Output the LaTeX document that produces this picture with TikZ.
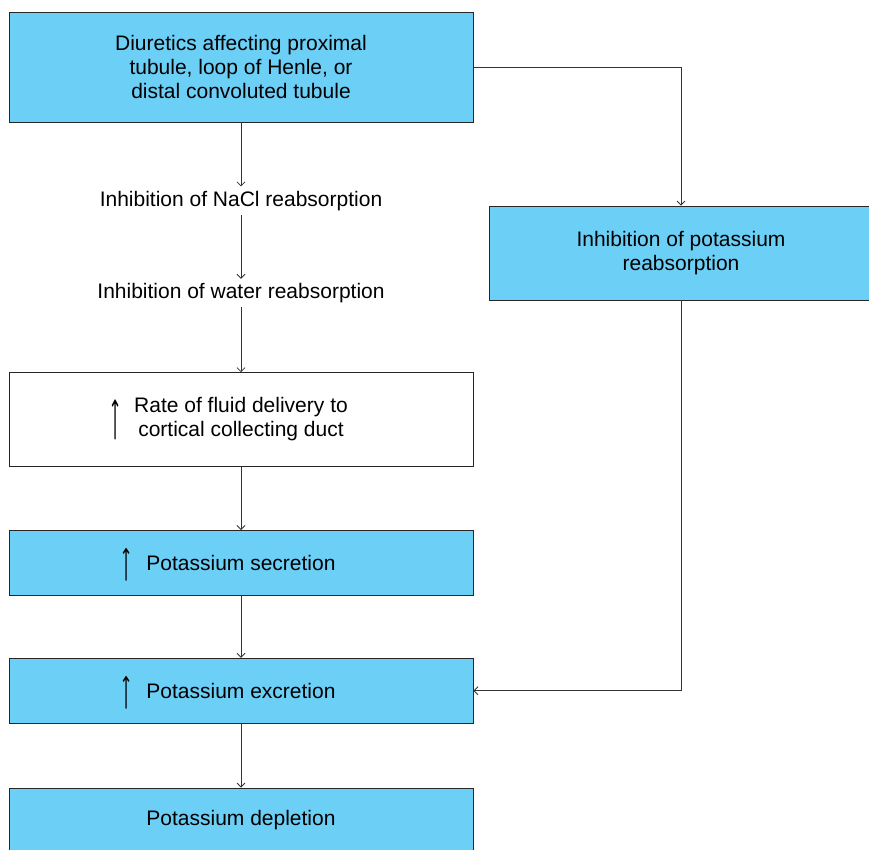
\documentclass[tikz,border=0pt]{standalone}
\usepackage{fontspec}
\setmainfont{Liberation Sans}
\newfontfamily\arrfont{DejaVu Sans}
\usetikzlibrary{positioning,arrows.meta}
\definecolor{kblue}{RGB}{108,207,246}
\definecolor{lineg}{RGB}{51,51,51}
\newcommand{\uparr}[1]{\smash{$\vcenter{\hbox{\rotatebox{90}{\scalebox{#1}[0.75]{\arrfont ⟶}}}}$}}
\begin{document}
\begin{tikzpicture}[>={Straight Barb[length=4pt,width=8pt]}, font=\fontsize{21}{24}\selectfont,
  box/.style={draw=black!85,line width=0.8pt,fill=kblue,minimum width=464pt,align=center,inner sep=2pt},
  step box/.style={minimum height=28pt,inner sep=0pt,align=center},
  conn/.style={draw=lineg,line width=0.8pt,->}]
  \useasboundingbox (0,0) rectangle (869pt,-849pt);
  \node[box,minimum height=110pt](diur) at (241pt,-67pt){Diuretics affecting proximal\\tubule, loop of Henle, or\\distal convoluted tubule};
  \node[step box,below=64pt of diur](nacl){Inhibition of NaCl reabsorption};
  \node[step box,below=64pt of nacl](water){Inhibition of water reabsorption};
  \node[box,fill=white,minimum height=94pt,below=65pt of water](rate){\llap{\uparr{1.43}\hspace{14pt}}\begin{tabular}{@{}c@{}}Rate of fluid delivery to\\cortical collecting duct\end{tabular}};
  \node[box,minimum height=65pt,below=63pt of rate](secr){\llap{\uparr{1.17}\hspace{15pt}}Potassium secretion};
  \node[box,minimum height=65pt,below=62pt of secr](excr){\llap{\uparr{1.17}\hspace{15pt}}Potassium excretion};
  \node[box,minimum height=65pt,below=64pt of excr](depl){Potassium depletion};
  \node[box,minimum width=384pt,minimum height=94pt](kreab) at (681pt,-253pt){Inhibition of potassium\\reabsorption};
  % main chain
  \draw[conn](diur)--(nacl);
  \draw[conn](nacl)--(water);
  \draw[conn](water)--(rate);
  \draw[conn](rate)--(secr);
  \draw[conn](secr)--(excr);
  \draw[conn](excr)--(depl);
  % side branch
  \draw[conn](diur.east)-|(kreab.north);
  \draw[conn](kreab.south)|-(excr.east);
\end{tikzpicture}
\end{document}
